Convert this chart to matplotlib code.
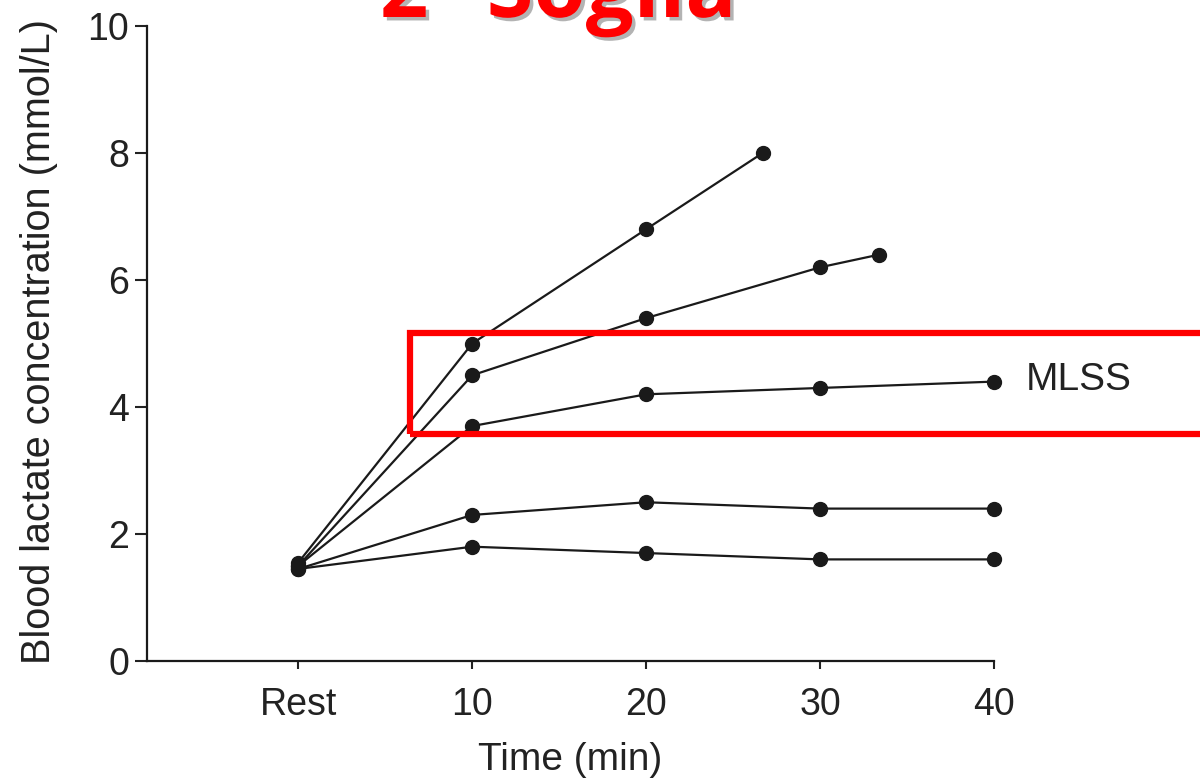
import matplotlib
matplotlib.use("Agg")
import matplotlib.pyplot as plt
import matplotlib.patheffects as pe
from matplotlib.patches import Rectangle

# time in minutes, "Rest" plotted at 0
X_TICKS = [0, 10, 20, 30, 40]
X_LABELS = ["Rest", "10", "20", "30", "40"]

t1 = [0, 10, 20, 26.7];          lac1 = [1.55, 5.0, 6.8, 8.0]
t2 = [0, 10, 20, 30, 33.4];      lac2 = [1.5, 4.5, 5.4, 6.2, 6.4]
t3 = [0, 10, 20, 30, 40];        lac3 = [1.5, 3.7, 4.2, 4.3, 4.4]      # MLSS
t4 = [0, 10, 20, 30, 40];        lac4 = [1.45, 2.3, 2.5, 2.4, 2.4]
t5 = [0, 10, 20, 30, 40];        lac5 = [1.45, 1.8, 1.7, 1.6, 1.6]

BOX_X = (6.45, 52.5)      # highlighted band around the MLSS curve
BOX_Y = (3.575, 5.165)

INK = "#1a1a1a"
plt.rcParams["font.family"] = ["Liberation Sans", "DejaVu Sans"]

fig = plt.figure(figsize=(12, 7.84), dpi=100)
ax = fig.add_axes([0.1225, 0.1569, 0.7058, 0.8099])

for t, v in [(t1, lac1), (t2, lac2), (t3, lac3), (t4, lac4), (t5, lac5)]:
    ax.plot(t, v, color=INK, lw=1.6, marker="o", ms=10, clip_on=False, zorder=3)

ax.text(41.8, 4.42, "MLSS", fontsize=28, color="#222", va="center", ha="left")

ax.add_patch(Rectangle((BOX_X[0], BOX_Y[0]), BOX_X[1] - BOX_X[0], BOX_Y[1] - BOX_Y[0],
                       fill=False, ec="#ff0000", lw=4.5, clip_on=False, zorder=4))

ax.set_xlim(-8.7, 40)
ax.set_ylim(0, 10)
ax.set_xticks(X_TICKS)
ax.set_xticklabels(X_LABELS)
ax.set_yticks([0, 2, 4, 6, 8, 10])
ax.tick_params(axis="both", labelsize=27, colors="#222", width=1.5)
ax.tick_params(axis="x", length=6, pad=13)
ax.tick_params(axis="y", length=9, pad=4)
for s in ("top", "right"):
    ax.spines[s].set_visible(False)
for s in ("left", "bottom"):
    ax.spines[s].set_linewidth(1.6)
    ax.spines[s].set_color(INK)

ax.set_xlabel("Time (min)", fontsize=28, color="#222")
ax.set_ylabel("Blood lactate concentration (mmol/L)", fontsize=28.5, color="#222")
ax.xaxis.set_label_coords(0.499, -0.128)
ax.yaxis.set_label_coords(-0.105, 0.503)

fig.text(380 / 1200, 1 - 17 / 784, "2° Soglia", fontsize=61, fontweight="bold",
         family="Open Sans", color="#ff0000", ha="left", va="baseline",
         path_effects=[pe.SimplePatchShadow(offset=(2.5, -2.5), shadow_rgbFace="#b3b3b3", alpha=1),
                       pe.Normal()])

fig.savefig("out.png", dpi=100)
